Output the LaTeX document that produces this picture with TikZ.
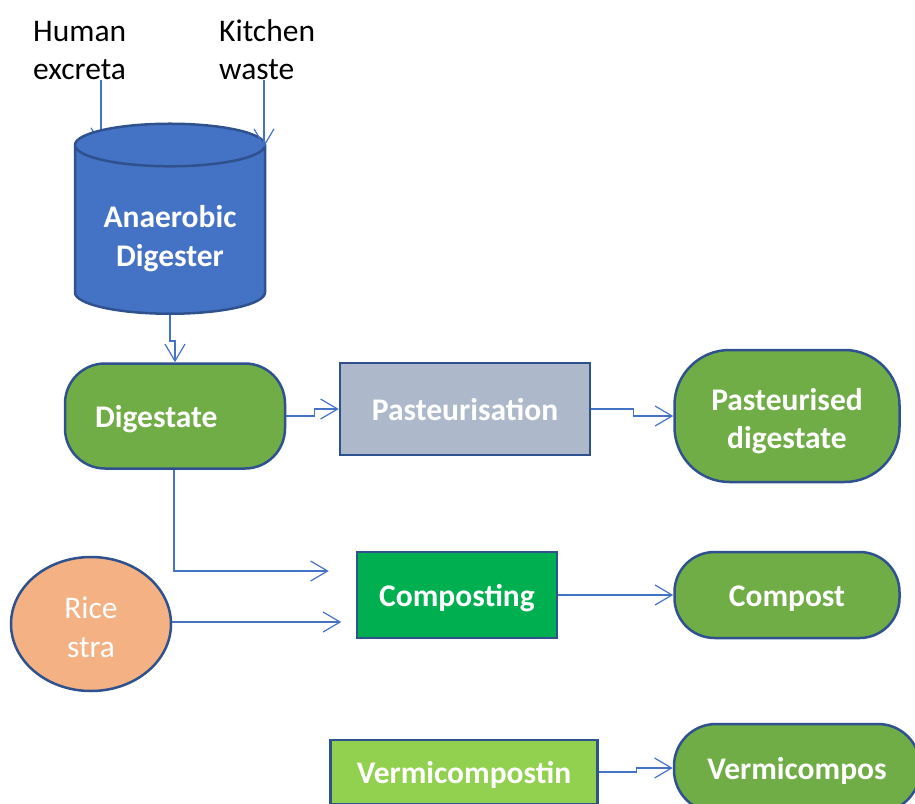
\documentclass[tikz,border=0pt]{standalone}
\usepackage{fontspec}
\setmainfont{Carlito}
\usetikzlibrary{shapes.geometric,arrows.meta,backgrounds}
\definecolor{edgeblue}{HTML}{2F528F}
\definecolor{lineblue}{HTML}{4472C4}
\definecolor{tankblue}{HTML}{4472C4}
\definecolor{leafgreen}{HTML}{70AD47}
\definecolor{greygreen}{HTML}{ADB9CA}
\definecolor{brightgreen}{HTML}{00B050}
\definecolor{limegreen}{HTML}{92D050}
\definecolor{strawpeach}{HTML}{F4B183}

\begin{document}
\begin{tikzpicture}[x=1pt, y=-1pt,
            every node/.style={font=\fontsize{31.5}{38.5}\selectfont, inner sep=0pt},
            box/.style={draw=edgeblue, line width=2.5pt, text=white, align=center},
            flow/.style={draw=lineblue, line width=1.2pt, -{Straight Barb[length=17pt, width=20pt]}}]
            \tikzset{label text/.style={font=\fontsize{31.5}{38.5}\selectfont\bfseries},
                     one line/.style={text height=24pt, text depth=2pt},
                     two lines/.style={text height=#1, text depth=0pt}}
            \useasboundingbox (0,0) rectangle (915,803);
            \clip (0,0) rectangle (915,803);
            \node [anchor=south west, align=left] (human) at (33,80) {Human\\excreta};
            \node [anchor=south west, align=left] (kitchen) at (219,80) {Kitchen\\waste};
            \node [box, label text, two lines=72pt, cylinder, shape border rotate=90, aspect=0.32,
                   minimum width=190pt, minimum height=190pt, fill=tankblue] (digester) at (170,230) {Anaerobic\\Digester};
            \node [box, label text, one line, rounded corners=40pt, minimum width=220pt, minimum height=105pt,
                   text width=160pt, align=left, fill=leafgreen] (digestate) at (175,416) {Digestate};
            \node [box, label text, one line, minimum width=250pt, minimum height=92pt, fill=greygreen] (pasteurisation) at (465,409) {Pasteurisation};
            \node [box, label text, two lines=65pt, rounded corners=55pt, minimum width=225pt, minimum height=132pt, fill=leafgreen] (pasteurised) at (787,416) {Pasteurised\\digestate};
            \node [box, label text, one line, minimum width=200pt, minimum height=86pt, fill=brightgreen] (composting) at (457,595) {Composting};
            \node [box, label text, one line, rounded corners=40pt, minimum width=225pt, minimum height=86pt, fill=leafgreen] (compost) at (787,595) {Compost};
            \node [box, two lines=66pt, ellipse, minimum width=160pt, minimum height=134pt, fill=strawpeach] (rice) at (91,624) {Rice\\stra};
            \node [box, label text, one line, minimum width=267pt, minimum height=64pt, fill=limegreen] (vermicomposting) at (464,772) {Vermicompostin};
            \node [box, label text, one line, rounded corners=42pt, minimum width=246pt, minimum height=88pt, fill=leafgreen] (vermicompost) at (797,768) {Vermicompos};
            \begin{scope}[on background layer]
            \draw [flow] ([xshift=68pt]human.south west) -- ++(0,66);
            \end{scope}
            \draw [flow] ([xshift=45pt]kitchen.south west) -- ++(0,67);
            \draw [flow] (digester.south) -- ++(0,26) -| (digestate.north);
            \draw [flow] (digestate.east) -- ++(28,0) |- (pasteurisation.west);
            \draw [flow] (pasteurisation.east) -- ++(42,0) |- (pasteurised.west);
            \draw [flow] ([xshift=-1pt]digestate.south) |- ([xshift=-27pt, yshift=24pt]composting.west);
            \draw [flow] ([yshift=2pt]rice.east) -- ++(169,0);
            \draw [flow] (composting.east) -- (compost.west);
            \draw [flow] (vermicomposting.east) -- ++(38,0) |- (vermicompost.west);
        \end{tikzpicture}
\end{document}
